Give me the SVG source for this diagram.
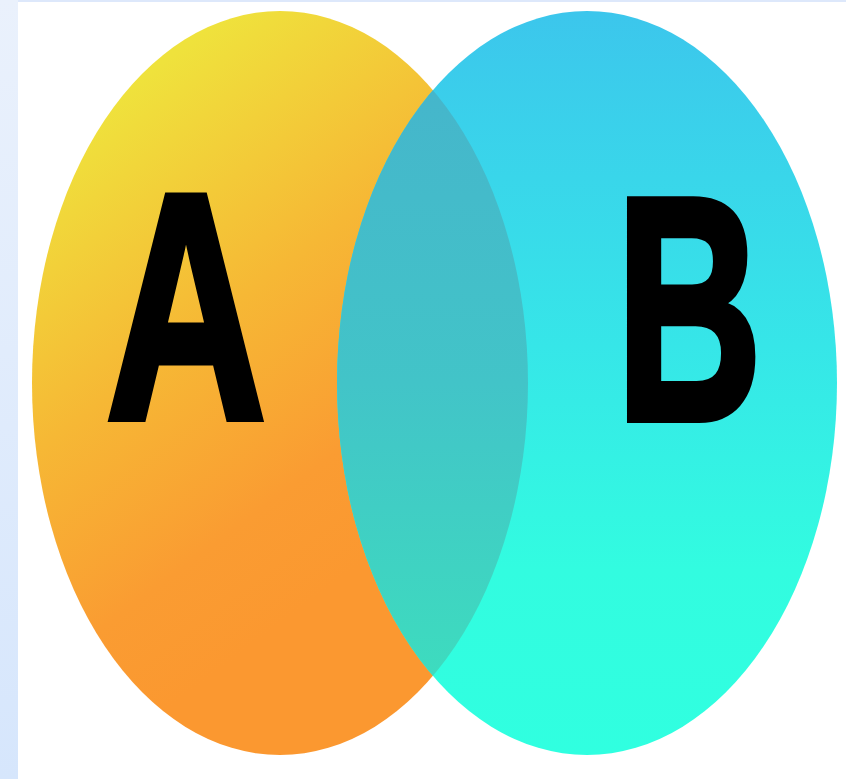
<svg xmlns="http://www.w3.org/2000/svg" width="846" height="779" viewBox="0 0 846 779">
  <defs>
    <linearGradient id="strip" x1="0" y1="0" x2="0" y2="1">
      <stop offset="0" stop-color="#eaf1fc"/>
      <stop offset="1" stop-color="#d6e6fc"/>
    </linearGradient>
    <linearGradient id="gA" x1="0.3" y1="0.05" x2="0.65" y2="0.75">
      <stop offset="0" stop-color="#efe23c"/>
      <stop offset="0.45" stop-color="#f6b835"/>
      <stop offset="0.8" stop-color="#fa9c32"/>
      <stop offset="1" stop-color="#fb9830"/>
    </linearGradient>
    <linearGradient id="gB" x1="0" y1="0" x2="0" y2="1">
      <stop offset="0" stop-color="#3cc6ec"/>
      <stop offset="0.45" stop-color="#36e6e8"/>
      <stop offset="0.75" stop-color="#32fce0"/>
      <stop offset="1" stop-color="#30ffe0"/>
    </linearGradient>
    <linearGradient id="gO" x1="0" y1="0" x2="0" y2="1">
      <stop offset="0" stop-color="#46b2cc"/>
      <stop offset="0.5" stop-color="#42c4c8"/>
      <stop offset="1" stop-color="#3ce2bc"/>
    </linearGradient>
    <clipPath id="clipA">
      <ellipse cx="280" cy="383" rx="248" ry="372"/>
    </clipPath>
    <style>
      .letter { font-family: "Liberation Sans", Arial, sans-serif; font-weight: bold; fill: #000; stroke: #000; stroke-width: 8; stroke-linejoin: miter; }
    </style>
  </defs>
  <rect width="846" height="779" fill="#ffffff"/>
  <rect x="0" y="0" width="846" height="2" fill="#dde8fb"/>
  <rect x="0" y="0" width="18" height="779" fill="url(#strip)"/>
  <g id="setA">
    <ellipse cx="280" cy="383" rx="248" ry="372" fill="url(#gA)"/>
  </g>
  <g id="setB">
    <ellipse cx="587" cy="383" rx="250" ry="372" fill="url(#gB)"/>
  </g>
  <g id="intersection">
    <ellipse cx="587" cy="383" rx="250" ry="372" fill="url(#gO)" clip-path="url(#clipA)"/>
  </g>
  <g id="labelA">
    <text class="letter" x="106" y="418" font-size="322" textLength="160" lengthAdjust="spacingAndGlyphs">A</text>
  </g>
  <g id="labelB">
    <text class="letter" x="616" y="419" font-size="318" textLength="146" lengthAdjust="spacingAndGlyphs">B</text>
  </g>
</svg>
